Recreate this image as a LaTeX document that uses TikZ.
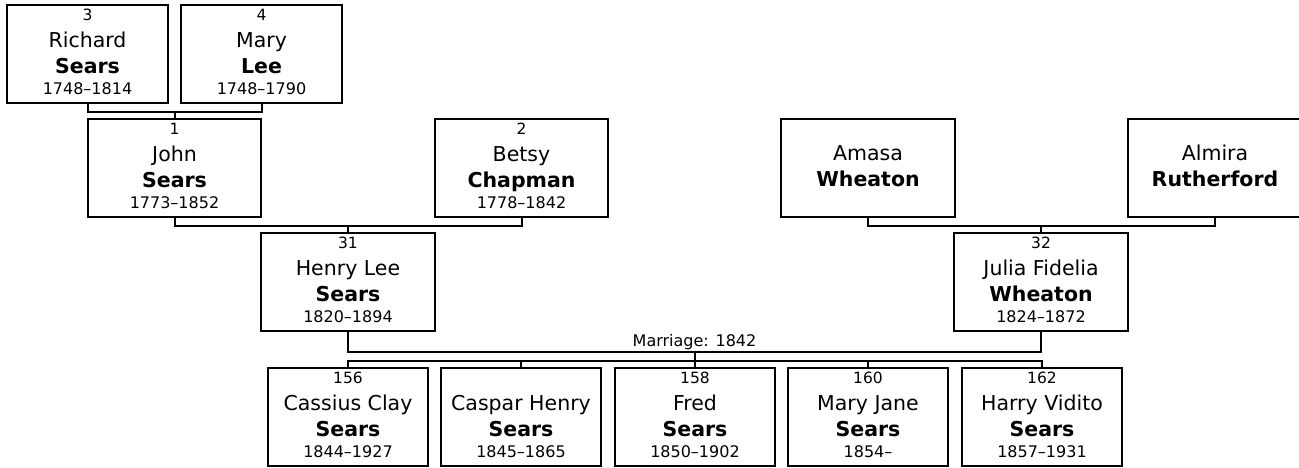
\documentclass[tikz,border=0pt]{standalone}
\usepackage{fontspec}
\setmainfont{DejaVu Sans}
\usetikzlibrary{calc}
\tikzset{
  pbox/.style={draw, line width=2pt, rectangle, minimum height=98pt, inner sep=0pt, outer sep=0pt},
  numtxt/.style={font=\fontsize{15.5}{18}\selectfont, anchor=base, inner sep=0pt},
  nametxt/.style={font=\fontsize{20.5}{24}\selectfont, anchor=base, inner sep=0pt},
  lasttxt/.style={font=\fontsize{20.5}{24}\selectfont\bfseries, anchor=base, inner sep=0pt},
  datetxt/.style={font=\fontsize{16}{19}\selectfont, anchor=base, inner sep=0pt},
  link/.style={line width=2pt}
}
% id, cx, top, width, num, first, last, dates
\newcommand\Person[8]{%
  \node[pbox, minimum width=#4pt] (#1) at (#2,#3+49) {};
  \node[numtxt] (#1-num) at ([yshift=-15.5pt]#1.north) {#5};
  \node[nametxt] (#1-first) at ([yshift=-42pt]#1.north) {#6};
  \node[lasttxt] (#1-last) at ([yshift=-68pt]#1.north) {#7};
  \node[datetxt] (#1-dates) at ([yshift=-89pt]#1.north) {#8};
}
% id, cx, top, width, first, last
\newcommand\PersonShort[6]{%
  \node[pbox, minimum width=#4pt] (#1) at (#2,#3+49) {};
  \node[nametxt] (#1-first) at ([yshift=-41pt]#1.north) {#5};
  \node[lasttxt] (#1-last) at ([yshift=-67pt]#1.north) {#6};
}
\begin{document}
\begin{tikzpicture}[x=1pt, y=-1pt]
  \useasboundingbox (0,0) rectangle (1299,467);
  \fill[white] (0,0) rectangle (1299,467);
  \clip (0,0) rectangle (1299,467);

  \Person{richard}{87.5}{5}{161}{3}{Richard}{Sears}{1748–1814}
  \Person{mary}{261.5}{5}{161}{4}{Mary}{Lee}{1748–1790}
  \Person{john}{174.5}{119}{173}{1}{John}{Sears}{1773–1852}
  \Person{betsy}{521.5}{119}{173}{2}{Betsy}{Chapman}{1778–1842}
  \PersonShort{amasa}{868}{119}{174}{Amasa}{Wheaton}
  \PersonShort{almira}{1215}{119}{174}{Almira}{Rutherford}
  \Person{henry}{348}{233}{174}{31}{Henry Lee}{Sears}{1820–1894}
  \Person{julia}{1041}{233}{174}{32}{Julia Fidelia}{Wheaton}{1824–1872}
  \Person{cassius}{348}{368}{160}{156}{Cassius Clay}{Sears}{1844–1927}
  \Person{caspar}{521}{368}{160}{}{Caspar Henry}{Sears}{1845–1865}
  \Person{fred}{695}{368}{160}{158}{Fred}{Sears}{1850–1902}
  \Person{maryj}{868}{368}{160}{160}{Mary Jane}{Sears}{1854–}
  \Person{harry}{1042}{368}{160}{162}{Harry Vidito}{Sears}{1857–1931}

  % parents of John
  \draw[link] (richard.south) -- ++(0,9) -| (mary.south);
  \draw[link] (john.north) -- ++(0,-7);
  % parents of Henry
  \draw[link] (john.south) -- ++(0,9) -| (betsy.south);
  \draw[link] (henry.north) -- ++(0,-7);
  % parents of Julia
  \draw[link] (amasa.south) -- ++(0,9) -| (almira.south);
  \draw[link] (julia.north) -- ++(0,-7);
  % marriage
  \draw[link] (henry.south) -- ++(0,21) -| (julia.south);
  \node[datetxt] (marriage) at ($(henry.south)!0.5!(julia.south)+(0,15)$) {Marriage: 1842};
  % children
  \draw[link] (cassius.north) -- ++(0,-7) -| (harry.north);
  \draw[link] (fred.north) -- ++(0,-15);
  \draw[link] (caspar.north) -- ++(0,-7);
  \draw[link] (maryj.north) -- ++(0,-7);
\end{tikzpicture}
\end{document}
